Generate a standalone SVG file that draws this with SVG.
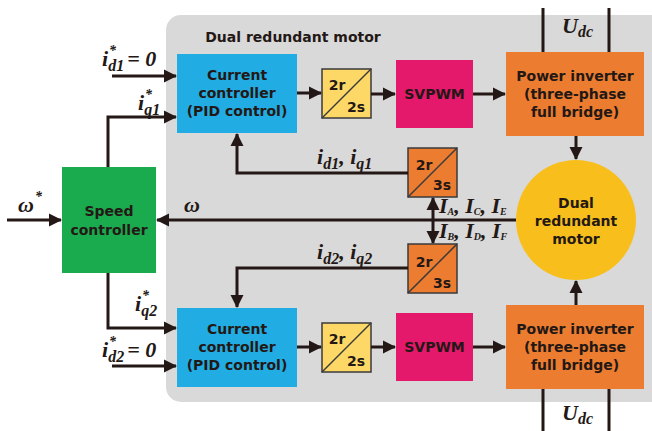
<svg xmlns="http://www.w3.org/2000/svg" width="652" height="431" viewBox="0 0 652 431">
<style>
.t{font-family:"DejaVu Sans","Liberation Sans",sans-serif;font-weight:bold;font-size:14px;fill:#231815;text-anchor:middle}
.m{font-family:"Liberation Serif","DejaVu Serif",serif;font-style:italic;font-weight:bold;font-size:22px;fill:#231815}
.s{font-size:16px}
.st{font-size:14px}
.w{stroke:#231815;stroke-width:3;fill:none}
.sb{stroke:#3a3a3a;stroke-width:1.5}
</style>
<defs>
<marker id="ah" markerUnits="userSpaceOnUse" markerWidth="14" markerHeight="14" refX="12" refY="7" orient="auto-start-reverse">
<path d="M0,0.5 L13,7 L0,13.5 z" fill="#231815"/>
</marker>
</defs>
<rect width="652" height="431" fill="#ffffff"/>
<g id="motor-area">
<rect x="166" y="15" width="500" height="387" rx="15" fill="#d9d9d9"/>
<text class="t" x="293" y="42">Dual redundant motor</text>
</g>
<g id="speed-controller">
<rect x="62" y="167" width="94" height="106" fill="#1bab4f"/>
<text class="t" x="109" y="216">Speed</text>
<text class="t" x="109" y="235">controller</text>
</g>
<g id="cc1">
<rect x="177" y="54" width="120" height="79" fill="#21ade3"/>
<text class="t" x="237" y="80">Current</text>
<text class="t" x="237" y="98">controller</text>
<text class="t" x="237" y="116">(PID control)</text>
</g>
<g id="cc2">
<rect x="177" y="308" width="120" height="79" fill="#21ade3"/>
<text class="t" x="237" y="334">Current</text>
<text class="t" x="237" y="352">controller</text>
<text class="t" x="237" y="370">(PID control)</text>
</g>
<g id="t2r2s-1">
<rect class="sb" x="322" y="69" width="49" height="49" fill="#fdd866"/>
<path class="sb" d="M322,118 L371,69"/>
<text class="t" x="337" y="90">2r</text>
<text class="t" x="356" y="112">2s</text>
</g>
<g id="t2r2s-2">
<rect class="sb" x="322" y="323" width="49" height="49" fill="#fdd866"/>
<path class="sb" d="M322,372 L371,323"/>
<text class="t" x="337" y="344">2r</text>
<text class="t" x="356" y="366">2s</text>
</g>
<g id="svpwm1">
<rect x="396" y="60" width="77" height="68" fill="#e5196b"/>
<text class="t" x="434.5" y="99">SVPWM</text>
</g>
<g id="svpwm2">
<rect x="396" y="313" width="77" height="68" fill="#e5196b"/>
<text class="t" x="434.5" y="352">SVPWM</text>
</g>
<g id="inverter1">
<rect x="506" y="52" width="138" height="84" fill="#ec7c30"/>
<text class="t" x="575" y="81">Power inverter</text>
<text class="t" x="575" y="99">(three-phase</text>
<text class="t" x="575" y="117">full bridge)</text>
</g>
<g id="inverter2">
<rect x="506" y="305" width="138" height="84" fill="#ec7c30"/>
<text class="t" x="575" y="334">Power inverter</text>
<text class="t" x="575" y="352">(three-phase</text>
<text class="t" x="575" y="370">full bridge)</text>
</g>
<g id="t2r3s-1">
<rect class="sb" x="408" y="148" width="49" height="49" fill="#ec7c30"/>
<path class="sb" d="M408,197 L457,148"/>
<text class="t" x="424" y="170">2r</text>
<text class="t" x="442" y="190">3s</text>
</g>
<g id="t2r3s-2">
<rect class="sb" x="408" y="244" width="49" height="49" fill="#ec7c30"/>
<path class="sb" d="M408,293 L457,244"/>
<text class="t" x="424" y="267">2r</text>
<text class="t" x="442" y="288">3s</text>
</g>
<g id="dual-motor">
<circle cx="576" cy="220" r="60" fill="#f8bf1c"/>
<text class="t" x="576" y="208">Dual</text>
<text class="t" x="576" y="226">redundant</text>
<text class="t" x="576" y="244">motor</text>
</g>
<g id="connectors">
<path class="w" d="M7,220 H61" marker-end="url(#ah)"/>
<path class="w" d="M516,220 H157" marker-end="url(#ah)"/>
<path class="w" d="M112,76 H176" marker-end="url(#ah)"/>
<path class="w" d="M108,167 V117 H176" marker-end="url(#ah)"/>
<path class="w" d="M108,273 V328 H176" marker-end="url(#ah)"/>
<path class="w" d="M112,366 H176" marker-end="url(#ah)"/>
<path class="w" d="M297,93 H321" marker-end="url(#ah)"/>
<path class="w" d="M371,94 H395" marker-end="url(#ah)"/>
<path class="w" d="M473,94 H505" marker-end="url(#ah)"/>
<path class="w" d="M297,347 H321" marker-end="url(#ah)"/>
<path class="w" d="M371,347 H395" marker-end="url(#ah)"/>
<path class="w" d="M473,347 H505" marker-end="url(#ah)"/>
<path class="w" d="M576,136 V159" marker-end="url(#ah)"/>
<path class="w" d="M576,305 V281" marker-end="url(#ah)"/>
<path class="w" d="M543,8 V52 M609,8 V52 M543,389 V431 M609,389 V431"/>
<path class="w" d="M408,173 H237 V134" marker-end="url(#ah)"/>
<path class="w" d="M408,268 H237 V307" marker-end="url(#ah)"/>
<path class="w" d="M433,198 V243" marker-start="url(#ah)" marker-end="url(#ah)"/>
</g>
<g id="labels">
<text class="m" x="18" y="212">ω</text><text class="m st" x="35" y="201">*</text>
<text class="m" x="184" y="212">ω</text>
<text class="m" x="102" y="66">i<tspan class="s" dy="5">d1</tspan><tspan dx="3" dy="-5">= 0</tspan></text><text class="m st" x="109" y="55">*</text>
<text class="m" x="102" y="357">i<tspan class="s" dy="5">d2</tspan><tspan dx="3" dy="-5">= 0</tspan></text><text class="m st" x="109" y="346">*</text>
<text class="m" x="138" y="110">i<tspan class="s" dy="5">q1</tspan></text><text class="m st" x="145" y="99">*</text>
<text class="m" x="135" y="311">i<tspan class="s" dy="5">q2</tspan></text><text class="m st" x="142" y="300">*</text>
<text class="m" x="317" y="164">i<tspan class="s" dy="5">d1</tspan><tspan dy="-5">, i</tspan><tspan class="s" dy="5">q1</tspan></text>
<text class="m" x="317" y="259">i<tspan class="s" dy="5">d2</tspan><tspan dy="-5">, i</tspan><tspan class="s" dy="5">q2</tspan></text>
<text class="m" x="439" y="213" font-size="16">I<tspan font-size="10" dy="2">A</tspan><tspan dy="-2">, I</tspan><tspan font-size="10" dy="2">C</tspan><tspan dy="-2">, I</tspan><tspan font-size="10" dy="2">E</tspan></text>
<text class="m" x="439" y="238" font-size="16">I<tspan font-size="10" dy="2">B</tspan><tspan dy="-2">, I</tspan><tspan font-size="10" dy="2">D</tspan><tspan dy="-2">, I</tspan><tspan font-size="10" dy="2">F</tspan></text>
<text class="m" x="562" y="33">U<tspan class="s" dy="4">dc</tspan></text>
<text class="m" x="562" y="420">U<tspan class="s" dy="4">dc</tspan></text>
</g>
</svg>
